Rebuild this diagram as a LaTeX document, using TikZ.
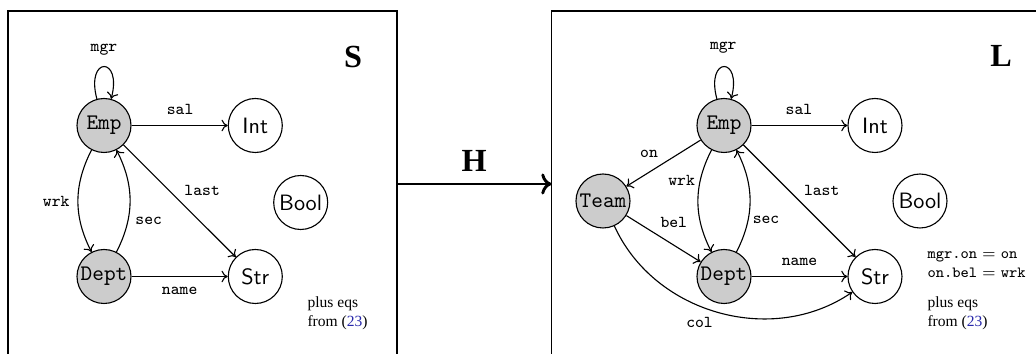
\documentclass[tikz,border=0pt]{standalone}
\usepackage{fontspec}
\usetikzlibrary{arrows.meta}
\newfontfamily\serifB{Liberation Serif}
\definecolor{refblue}{RGB}{40,40,170}
\begin{document}
\begin{tikzpicture}[x=0.45pt,y=-0.45pt,line width=0.5pt,
  ent/.style={circle,draw,fill=black!20,minimum size=24.3pt,inner sep=0pt,font=\ttfamily\fontsize{10}{12}\selectfont},
  val/.style={circle,draw,fill=white,minimum size=24.3pt,inner sep=0pt,font=\sffamily\fontsize{10}{12}\selectfont},
  lbl/.style={inner sep=0pt,anchor=center,font=\ttfamily\fontsize{7.5}{9}\selectfont},
  arr/.style={-{To[length=2.8pt,width=5.2pt]}},
  panel/.style={line width=0.75pt},
  ttl/.style={inner sep=0pt,anchor=center,font=\serifB\bfseries\fontsize{14.5}{17}\selectfont},
  side/.style={inner sep=0pt,align=left,anchor=west,font=\serifB\fontsize{7}{8.7}\selectfont},
  eqs/.style={inner sep=0pt,align=left,anchor=west,font=\ttfamily\fontsize{7}{8.7}\selectfont},
]
\useasboundingbox (0,0) rectangle (1036,354);
\clip (0,0) rectangle (1036,354);

% panels
\draw[panel] (8,400) -- (8,11) -- (397,11) -- (397,400);
\draw[panel] (551.5,400) -- (551.5,11) -- (1050,11);

% morphism H
\coordinate (hA) at (397,184);
\coordinate (hB) at (551.5,184);
\draw[line width=1.3pt,-{To[length=4.6pt,width=9.5pt]}] (hA) -- node[ttl,shift={(0,-23)}] (hlbl) {H} (hB);

% ---------- left panel S ----------
\node[ent] (E1) at (104,125.5) {Emp};
\node[ent] (D1) at (104,276.5) {Dept};
\node[val] (I1) at (255.3,125.5) {Int};
\node[val] (S1) at (255.3,276.5) {Str};
\node[val] (B1) at (300.7,202.5) {Bool};
\node[ttl] (tS) at (353,57) {S};

\draw[arr] (E1) to[loop above] node[lbl,pos=0.5,shift={(0,-16.5)}] (l1mgr) {mgr} (E1);
\draw[arr] (E1) -- node[lbl,shift={(0.5,-16)}] (l1sal) {sal} (I1);
\draw[arr] (E1) -- node[lbl,shift={(22.5,-10.8)}] (l1last) {last} (S1);
\draw[arr] (E1) to[bend right=27] node[lbl,pos=0.5,shift={(-21.7,0.8)}] (l1wrk) {wrk} (D1);
\draw[arr] (D1) to[bend right=27] node[lbl,pos=0.5,shift={(18.7,20.2)}] (l1sec) {sec} (E1);
\draw[arr] (D1) -- node[lbl,shift={(0,14)}] (l1name) {name} (S1);

\node[side] (p1) at (307,313.5) {plus eqs\\from (\textcolor{refblue}{23})};

% ---------- right panel L ----------
\node[ent] (E2) at (724,125.5) {Emp};
\node[ent] (T2) at (603,201) {Team};
\node[ent] (D2) at (724,276.5) {Dept};
\node[val] (I2) at (875,125.5) {Int};
\node[val] (S2) at (875,276.5) {Str};
\node[val] (B2) at (920,201) {Bool};
\node[ttl] (tL) at (1001,56) {L};

\draw[arr] (E2) to[loop above] node[lbl,pos=0.5,shift={(-0.7,-18.5)}] (l2mgr) {mgr} (E2);
\draw[arr] (E2) -- node[lbl,shift={(-0.5,-16.5)}] (l2sal) {sal} (I2);
\draw[arr] (E2) -- node[lbl,shift={(22.2,-10.8)}] (l2last) {last} (S2);
\draw[arr] (E2) -- node[lbl,shift={(-14.5,-9.5)}] (l2on) {on} (T2);
\draw[arr] (E2) to[bend right=27] node[lbl,pos=0.5,shift={(-16.3,-20.8)}] (l2wrk) {wrk} (D2);
\draw[arr] (D2) to[bend right=27] node[lbl,pos=0.5,shift={(16,18.5)}] (l2sec) {sec} (E2);
\draw[arr] (T2) -- node[lbl,shift={(10.3,-16.3)}] (l2bel) {bel} (D2);
\draw[arr] (D2) -- node[lbl,shift={(0,-15)}] (l2name) {name} (S2);
\draw[arr] (T2) to[bend right=50] node[lbl,pos=0.5,shift={(-19,10)}] (l2col) {col} (S2);

\node[eqs] (q2) at (927,264.6) {mgr.on${}={}$on\\on.bel${}={}$wrk};
\node[side] (p2) at (927,313.5) {plus eqs\\from (\textcolor{refblue}{23})};
\end{tikzpicture}
\end{document}
